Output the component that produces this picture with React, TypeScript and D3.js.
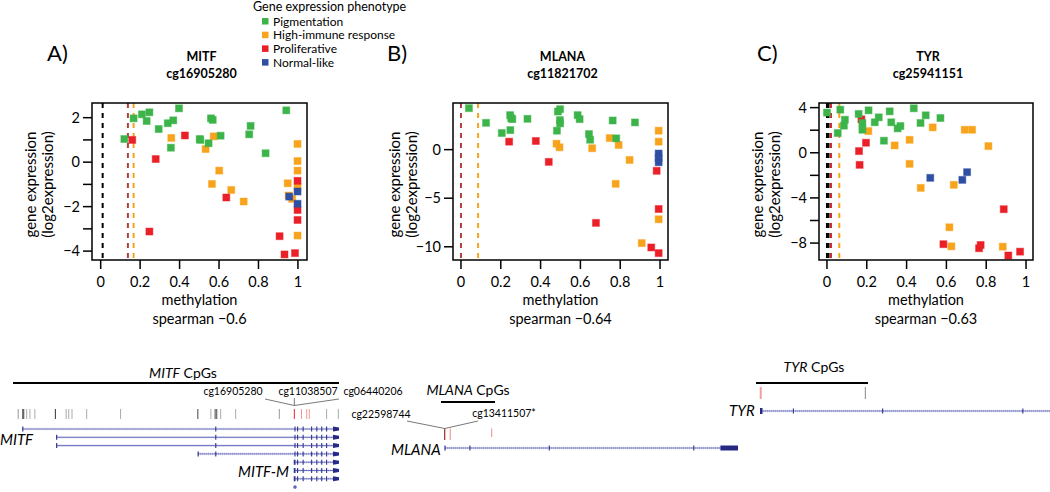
import React from 'react'
import * as d3 from 'd3'

const W = 1050
const H = 492
const font = "Lato, 'Open Sans', sans-serif"

// phenotype colours
const phenotypes = ['Pigmentation', 'High-immune response', 'Proliferative', 'Normal-like']
const phenoColors = ['#3cb44a', '#f8a31c', '#ea1f27', '#2f4fa2']

// A) MITF cg16905280  [methylation, log2 expression]
const mitfPigmentation = [[0.12, 1.04], [0.167, 1.97], [0.209, 2.15], [0.233, 1.85], [0.247, 2.24], [0.294, 1.49], [0.34, 1.75], [0.368, 1.88], [0.397, 2.42], [0.356, 0.65], [0.502, 1.04], [0.505, 1.0], [0.547, 0.85], [0.559, 1.97], [0.568, 1.9], [0.608, 1.19], [0.753, 1.25], [0.76, 1.63], [0.836, 0.4], [0.941, 2.33]]
const mitfImmune = [[0.358, 1.09], [0.573, 1.16], [0.532, 0.59], [0.601, -0.38], [0.564, -0.98], [0.662, -1.25], [0.725, -1.77], [0.948, -0.95], [0.953, -1.5], [0.971, -1.65], [0.998, 0.82], [0.998, 0.05], [0.998, -0.38], [0.998, -1.1], [0.998, -3.3]]
const mitfProliferative = [[0.16, 1.0], [0.279, 0.14], [0.427, 1.2], [0.637, -1.59], [0.247, -3.12], [0.907, -3.33], [0.932, -4.15], [0.985, -4.09], [0.998, -0.84], [0.998, -2.15], [0.998, -2.6]]
const mitfNormal = [[0.956, -1.55], [0.998, -1.32], [0.998, -1.87]]

// B) MLANA cg11821702
const mlanaPigmentation = [[0.04, 4.27], [0.126, 2.76], [0.205, 1.71], [0.247, 3.55], [0.252, 3.24], [0.258, 3.14], [0.248, 2.01], [0.334, 3.17], [0.482, 1.95], [0.487, 3.92], [0.498, 4.16], [0.497, 3.04], [0.498, 2.7], [0.586, 3.55], [0.596, 3.14], [0.643, 1.6], [0.649, 1.02], [0.762, 3.0], [0.78, 1.16], [0.874, 2.8]]
const mlanaImmune = [[0.48, 0.61], [0.495, 0.24], [0.659, 0.14], [0.747, 1.19], [0.792, 0.48], [0.847, -1.06], [0.777, -3.52], [0.908, -9.62], [0.993, 1.95], [0.993, 0.82], [0.993, -7.17]]
const mlanaProliferative = [[0.242, 0.82], [0.376, 0.89], [0.441, -1.26], [0.678, -7.54], [0.983, -2.18], [0.993, -6.11], [0.956, -10.07], [0.993, -10.65]]
const mlanaNormal = [[0.993, -0.4], [0.993, -0.85], [0.993, -1.3]]

// C) TYR cg25941151
const tyrPigmentation = [[0.0, 3.56], [0.067, 3.82], [0.054, 1.75], [0.085, 2.4], [0.09, 2.93], [0.159, 3.44], [0.178, 2.64], [0.178, 2.04], [0.209, 3.76], [0.24, 2.7], [0.26, 3.14], [0.286, 1.07], [0.315, 3.67], [0.323, 2.7], [0.355, 2.16], [0.369, 2.37], [0.436, 3.94], [0.47, 2.64], [0.496, 3.32], [0.57, 3.08]]
const tyrImmune = [[0.208, 1.92], [0.34, 0.65], [0.415, 1.15], [0.415, -0.98], [0.531, 2.25], [0.471, -3.11], [0.637, -2.84], [0.692, 2.04], [0.729, 2.04], [0.811, 0.59], [0.615, -6.6], [0.625, -8.29], [0.883, -8.32]]
const tyrProliferative = [[0.173, 2.96], [0.161, 0.15], [0.196, 0.89], [0.164, -1.07], [0.585, -8.1], [0.764, -8.46], [0.772, -8.17], [0.888, -5.0], [0.911, -9.1], [0.97, -8.76]]
const tyrNormal = [[0.519, -2.22], [0.68, -2.4], [0.704, -1.72]]

// dashed thresholds
const mitfCutoffs = [[0.01, '#000'], [0.138, '#b0403e'], [0.167, '#f8a31c']]
const mlanaCutoffs = [[0.0, '#b0403e'], [0.086, '#f8a31c']]
const tyrCutoffs = [[0.0, '#000'], [0.008, '#000'], [0.02, '#c8282a'], [0.062, '#f8a31c']]

const xTicks = [0, 0.2, 0.4, 0.6, 0.8, 1]
const mitfYTicks = [-4, -3, -2, -1, 0, 1, 2]
const mlanaYTicks = [-10, -5, 0]
const tyrYTicks = [-8, -6, -4, -2, 0, 2, 4]

const panels = [
  {
    letter: 'A)', gene: 'MITF', probe: 'cg16905280', rho: '−0.6',
    left: 92, right: 307, xDomain: [-0.044, 1.046], yDomain: [-4.4, 2.66],
    yTicks: mitfYTicks, labelEvery: 2, letterX: 47, ylabOff: [-62, -45],
    groups: [mitfImmune, mitfProliferative, mitfNormal, mitfPigmentation], order: [1, 2, 3, 0],
    cutoffs: mitfCutoffs,
  },
  {
    letter: 'B)', gene: 'MLANA', probe: 'cg11821702', rho: '−0.64',
    left: 453, right: 668, xDomain: [-0.04, 1.04], yDomain: [-11.36, 4.8],
    yTicks: mlanaYTicks, labelEvery: 5, letterX: 387, ylabOff: [-59, -42],
    groups: [mlanaImmune, mlanaProliferative, mlanaNormal, mlanaPigmentation], order: [1, 2, 3, 0],
    cutoffs: mlanaCutoffs,
  },
  {
    letter: 'C)', gene: 'TYR', probe: 'cg25941151', rho: '−0.63',
    left: 819, right: 1033, xDomain: [-0.04, 1.035], yDomain: [-9.5, 4.41],
    yTicks: tyrYTicks, labelEvery: 4, letterX: 757, ylabOff: [-62, -45],
    groups: [tyrImmune, tyrProliferative, tyrNormal, tyrPigmentation], order: [1, 2, 3, 0],
    cutoffs: tyrCutoffs,
  },
]

const top = 103
const bottom = 260
const fmt = (v: number) => (v < 0 ? '−' + Math.abs(v) : String(v))

function Panel({ p }: { p: any }) {
  const x = d3.scaleLinear().domain(p.xDomain).range([p.left, p.right])
  const y = d3.scaleLinear().domain(p.yDomain).range([bottom, top])
  const cx = (p.left + p.right) / 2
  const cy = (top + bottom) / 2 + 3
  const s = 7
  return (
    <g>
      <text x={p.letterX} y={61} fontSize={22}>{p.letter}</text>
      <text x={cx + 2} y={61} fontSize={12.5} fontWeight="bold" textAnchor="middle">{p.gene}</text>
      <text x={cx + 2} y={78} fontSize={12.5} fontWeight="bold" textAnchor="middle">{p.probe}</text>
      {p.cutoffs.map(([v, c]: any, i: number) => (
        <line key={i} x1={x(v)} x2={x(v)} y1={top} y2={bottom} stroke={c} strokeWidth={2} strokeDasharray="5,5" />
      ))}
      {p.groups.map((g: number[][], gi: number) => g.map((d, i) => (
        <rect key={gi + '-' + i} x={x(d[0]) - s / 2} y={y(d[1]) - s / 2} width={s} height={s}
          fill={phenoColors[p.order[gi]]} stroke={phenoColors[p.order[gi]]} strokeOpacity={0.45} strokeWidth={1} />
      )))}
      <rect x={p.left} y={top} width={p.right - p.left} height={bottom - top} fill="none" stroke="#000" strokeWidth={1.5} />
      {xTicks.map(t => (
        <g key={t}>
          <line x1={x(t)} x2={x(t)} y1={bottom} y2={bottom + 9} stroke="#000" strokeWidth={1.5} />
          <text x={x(t)} y={287} fontSize={14.5} textAnchor="middle">{t}</text>
        </g>
      ))}
      {p.yTicks.map((t: number) => (
        <g key={t}>
          <line x1={p.left - 9} x2={p.left} y1={y(t)} y2={y(t)} stroke="#000" strokeWidth={1.5} />
          {t % p.labelEvery === 0 && (
            <text x={p.left - 12} y={y(t) + 5} fontSize={14.5} textAnchor="end">{fmt(t)}</text>
          )}
        </g>
      ))}
      <text x={cx} y={305} fontSize={14.5} textAnchor="middle">methylation</text>
      <text x={cx} y={324} fontSize={14.5} textAnchor="middle">spearman {p.rho}</text>
      <text transform={`translate(${p.left + p.ylabOff[0]},${cy}) rotate(-90)`} fontSize={15} textAnchor="middle" dominantBaseline="central">gene expression</text>
      <text transform={`translate(${p.left + p.ylabOff[1]},${cy}) rotate(-90)`} fontSize={15} textAnchor="middle" dominantBaseline="central">(log2expression)</text>
    </g>
  )
}

// gene track diagrams: positions as fractions of each locus
const mitfCpgs = [0.016, 0.03, 0.033, 0.042, 0.052, 0.067, 0.13, 0.163, 0.171, 0.181, 0.226, 0.33, 0.567, 0.607, 0.62, 0.625, 0.637, 0.683, 0.817, 0.863, 0.885, 0.901, 0.909, 0.962, 0.998]
const mitfCpgShade = ['#999', '#444', '#444', '#aaa', '#aaa', '#aaa', '#333', '#aaa', '#aaa', '#aaa', '#aaa', '#aaa', '#444', '#aaa', '#444', '#444', '#aaa', '#aaa', '#999', '#e8242a', '#f09a9a', '#f09a9a', '#f09a9a', '#aaa', '#aaa']
const mitfStarts = [0.03, 0.134, 0.134, 0.568, 0.863, 0.863, 0.863]
const mitfExons = [0.622, 0.865, 0.873, 0.89, 0.916, 0.932, 0.947, 0.962]
const mlanaCpgs = [-0.001, 0.018, 0.159]
const mlanaCpgShade = ['#a3282a', '#f09a9a', '#f09a9a']
const mlanaExons = [0.085, 0.356, 0.849]
const tyrCpgs = [-0.001, 0.361]
const tyrCpgShade = ['#f0a0a0', '#888']
const tyrExons = [0.112, 0.421, 0.906]

function Transcript({ sc, y, start, end, exons, arrow = true, thickEnd = 0 }: any) {
  const x0 = sc(start)
  const x1 = sc(end)
  return (
    <g>
      <line x1={x0} x2={x1} y1={y} y2={y} stroke="#b4b6e2" strokeWidth={2.6} strokeDasharray="0.7,1.3" />
      <line x1={x0} x2={x1} y1={y} y2={y} stroke="#6265b8" strokeWidth={0.9} />
      <line x1={x0} x2={x0} y1={y - 2.5} y2={y + 2.5} stroke="#30348e" strokeWidth={1.2} />
      {exons.filter((e: number) => e >= start && e <= end).map((e: number, i: number) => (
        <line key={i} x1={sc(e)} x2={sc(e)} y1={y - 2.5} y2={y + 2.5} stroke="#30348e" strokeWidth={1.1} />
      ))}
      {thickEnd > 0 && <rect x={sc(thickEnd)} y={y - 2.5} width={x1 - sc(thickEnd)} height={5} fill="#262a85" />}
      {arrow && <path d={`M${x1 - 6},${y - 2.5}L${x1},${y - 1.5}L${x1},${y + 1.5}L${x1 - 6},${y + 2.5}Z`} fill="#262a85" />}
    </g>
  )
}

function GeneTracks() {
  const mitf = d3.scaleLinear().domain([0, 1]).range([13, 339])
  const mlana = d3.scaleLinear().domain([0, 1]).range([445, 738])
  const tyr = d3.scaleLinear().domain([0, 1]).range([761, 1050])
  const rowY = d3.scaleLinear().domain([0, 1]).range([429, 437.3])
  const cgFont = 10.5
  return (
    <g>
      {/* MITF */}
      <text x={183} y={378} fontSize={14} textAnchor="middle"><tspan fontStyle="italic">MITF</tspan> CpGs</text>
      <line x1={mitf(0)} x2={mitf(1)} y1={383} y2={383} stroke="#000" strokeWidth={2} />
      <text x={233} y={395} fontSize={cgFont} textAnchor="middle">cg16905280</text>
      <text x={308} y={395} fontSize={cgFont} textAnchor="middle">cg11038507</text>
      <text x={373} y={395} fontSize={cgFont} textAnchor="middle">cg06440206</text>
      <text x={381} y={418} fontSize={cgFont} textAnchor="middle">cg22598744</text>
      <line x1={265} y1={399} x2={mitf(0.863)} y2={405.5} stroke="#555" strokeWidth={0.8} />
      <line x1={339} y1={399} x2={mitf(0.863)} y2={405.5} stroke="#555" strokeWidth={0.8} />
      <line x1={mitf(0.863)} y1={398} x2={mitf(0.863)} y2={405.5} stroke="#555" strokeWidth={0.8} />
      {mitfCpgs.map((c, i) => (
        <line key={i} x1={mitf(c)} x2={mitf(c)} y1={409} y2={419} stroke={mitfCpgShade[i]} strokeWidth={1} />
      ))}
      {mitfStarts.map((st, i) => (
        <Transcript key={i} sc={mitf} y={rowY(i)} start={st} end={1} exons={mitfExons} />
      ))}
      <circle cx={mitf(0.865)} cy={rowY(7)} r={1.8} fill="#6265b8" />
      <text x={0} y={445} fontSize={15} fontStyle="italic">MITF</text>
      <text x={238} y={477} fontSize={15} fontStyle="italic">MITF-M</text>

      {/* MLANA */}
      <text x={468} y={395} fontSize={14} textAnchor="middle"><tspan fontStyle="italic">MLANA</tspan> CpGs</text>
      <line x1={441} x2={495} y1={402} y2={402} stroke="#000" strokeWidth={2} />
      <text x={504} y={417} fontSize={cgFont} textAnchor="middle">cg13411507*</text>
      <line x1={407} y1={421} x2={mlana(-0.001)} y2={428.5} stroke="#555" strokeWidth={0.8} />
      <line x1={478} y1={421} x2={mlana(-0.001)} y2={428.5} stroke="#555" strokeWidth={0.8} />
      {mlanaCpgs.map((c, i) => (
        <line key={i} x1={mlana(c)} x2={mlana(c)} y1={428.5} y2={i === 2 ? 437 : 440} stroke={mlanaCpgShade[i]} strokeWidth={1.2} />
      ))}
      <Transcript sc={mlana} y={448} start={0} end={1} exons={mlanaExons} arrow={false} thickEnd={0.94} />
      <text x={391} y={455} fontSize={15} fontStyle="italic">MLANA</text>

      {/* TYR */}
      <text x={814} y={372} fontSize={14} textAnchor="middle"><tspan fontStyle="italic">TYR</tspan> CpGs</text>
      <line x1={756} x2={868} y1={383} y2={383} stroke="#000" strokeWidth={2} />
      {tyrCpgs.map((c, i) => (
        <line key={i} x1={tyr(c)} x2={tyr(c)} y1={387} y2={399} stroke={tyrCpgShade[i]} strokeWidth={i === 0 ? 2 : 1} />
      ))}
      <Transcript sc={tyr} y={411} start={0} end={1} exons={tyrExons} arrow={false} />
      <rect x={tyr(0) - 1} y={408} width={2.5} height={6} fill="#262a85" />
      <text x={729} y={416} fontSize={15} fontStyle="italic">TYR</text>
    </g>
  )
}

function Legend() {
  return (
    <g>
      <text x={253} y={11} fontSize={12.5}>Gene expression phenotype</text>
      {phenotypes.map((ph, i) => (
        <g key={ph}>
          <rect x={262} y={18 + i * 13.7} width={6.5} height={6.5} fill={phenoColors[i]} />
          <text x={273} y={25.5 + i * 13.7} fontSize={12}>{ph}</text>
        </g>
      ))}
    </g>
  )
}

export default function App() {
  return (
    <svg width={W} height={H} style={{ position: 'absolute', left: 0, top: 0, background: '#fff' }}
      fontFamily={font}>
      <rect width={W} height={H} fill="#fff" />
      {panels.map(p => <Panel key={p.letter} p={p} />)}
      <Legend />
      <GeneTracks />
    </svg>
  )
}
